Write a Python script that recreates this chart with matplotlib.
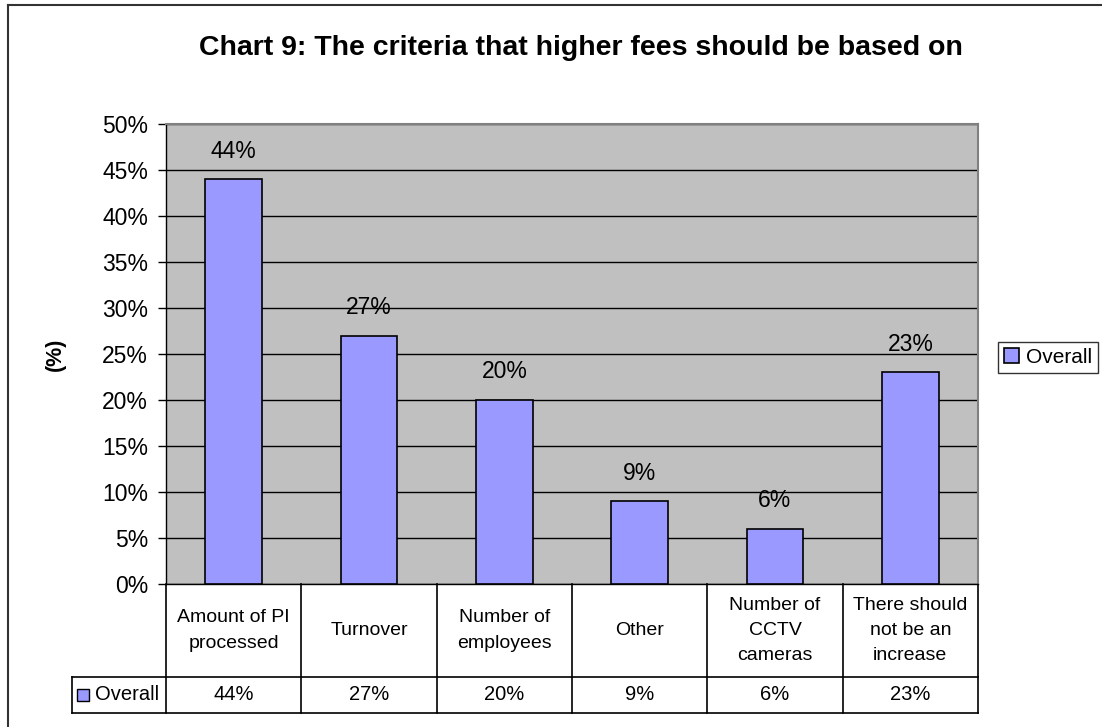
import matplotlib.pyplot as plt
from matplotlib.lines import Line2D

plt.rcParams['font.family'] = ['Liberation Sans', 'DejaVu Sans']

title = 'Chart 9: The criteria that higher fees should be based on'
categories = ['Amount of PI\nprocessed', 'Turnover', 'Number of\nemployees', 'Other',
              'Number of\nCCTV\ncameras', 'There should\nnot be an\nincrease']
series_name = 'Overall'
values = [44, 27, 20, 9, 6, 23]
yticks = [0, 5, 10, 15, 20, 25, 30, 35, 40, 45, 50]

bar_color = '#9999FF'
grey = '#C0C0C0'

fig = plt.figure(figsize=(11.02, 7.27), dpi=100)
ax = fig.add_axes([166 / 1102, 1 - 584 / 727, 812 / 1102, 460 / 727])
ax.set_facecolor(grey)

x = list(range(len(values)))
ax.bar(x, values, width=0.42, color=bar_color, edgecolor='black', linewidth=1.2,
       zorder=3, label=series_name)
for xi, v in zip(x, values):
    ax.text(xi, v + 1.8, f'{v}%', ha='center', va='bottom', fontsize=16.5, zorder=4)

ax.set_xlim(-0.5, len(values) - 0.5)
ax.set_ylim(0, 50)
ax.set_yticks(yticks)
ax.set_yticklabels([f'{t}%' for t in yticks], fontsize=16.5)
ax.set_xticks([])
ax.yaxis.grid(True, color='black', linewidth=1)
ax.set_axisbelow(True)
ax.tick_params(axis='y', length=6, width=1, pad=7)
for s in ['top', 'right']:
    ax.spines[s].set_color('#808080')
    ax.spines[s].set_linewidth(1.5)
ax.spines['left'].set_linewidth(1)
ax.spines['bottom'].set_linewidth(1)

ax.set_ylabel('(%)', fontsize=15.5, fontweight='bold', labelpad=26)

fig.text(581 / 1102, 1 - 48 / 727, title, ha='center', va='center', fontsize=20.5,
         fontweight='bold')

# data table below the plot
row1 = -93 / 460
row2 = -129 / 460
hdr_left = -94 / 812
n = len(values)
tr = ax.transAxes
lines = []
for k in range(n + 1):
    xf = k / n
    lines.append(([xf, xf], [0, row2]))
lines.append(([hdr_left, 1], [row1, row1]))
lines.append(([hdr_left, 1], [row2, row2]))
lines.append(([hdr_left, hdr_left], [row1, row2]))
for xs, ys in lines:
    ax.add_line(Line2D(xs, ys, transform=tr, color='black', linewidth=1.2, clip_on=False))

for k, (cat, v) in enumerate(zip(categories, values)):
    xc = (k + 0.5) / n
    ax.text(xc, row1 / 2, cat, transform=tr, ha='center', va='center', fontsize=14,
            linespacing=1.65)
    ax.text(xc, (row1 + row2) / 2, f'{v}%', transform=tr, ha='center', va='center',
            fontsize=14.5)

ax.plot([hdr_left + 0.014], [(row1 + row2) / 2], marker='s', markersize=9,
        markerfacecolor=bar_color, markeredgecolor='black', transform=tr, clip_on=False)
ax.text(hdr_left + 0.028, (row1 + row2) / 2, series_name, transform=tr, ha='left',
        va='center', fontsize=14.5)

leg = ax.legend(loc='center left', bbox_to_anchor=(1.0246, 0.4924), fontsize=15,
                frameon=True, fancybox=False, edgecolor='black', handlelength=0.7,
                handleheight=0.7, handletextpad=0.35, borderpad=0.3, borderaxespad=0)
leg.get_frame().set_linewidth(1)

# outer chart frame
fig.add_artist(Line2D([8 / 1102, 8 / 1102], [0, 1 - 5 / 727], color='#333333',
                      linewidth=1.5, transform=fig.transFigure))
fig.add_artist(Line2D([8 / 1102, 1], [1 - 5 / 727, 1 - 5 / 727], color='#333333',
                      linewidth=1.5, transform=fig.transFigure))

fig.savefig('out.png', dpi=100)
